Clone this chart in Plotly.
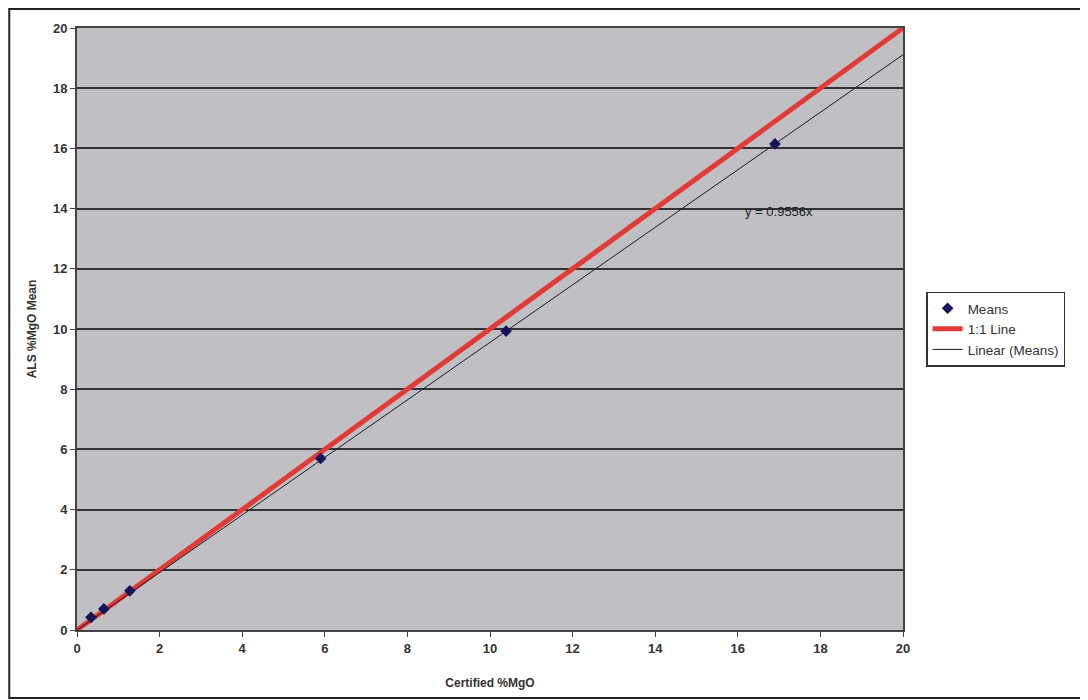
import plotly.graph_objects as go

cert = [0.34, 0.65, 1.28, 5.9, 10.39, 16.9]
als_mean = [0.42, 0.70, 1.30, 5.7, 9.93, 16.15]
one_to_one = [0, 20]
slope = 0.9556
trend_x = [0, 20]
trend_y = [v * slope for v in trend_x]
tickvals = list(range(0, 21, 2))

fig = go.Figure()
fig.add_trace(go.Scatter(x=one_to_one, y=one_to_one, mode="lines", name="1:1 Line",
                         line=dict(color="#e23a36", width=5), showlegend=False))
fig.add_trace(go.Scatter(x=trend_x, y=trend_y, mode="lines", name="Linear (Means)",
                         line=dict(color="#1a1a2a", width=1), showlegend=False))
fig.add_trace(go.Scatter(x=cert, y=als_mean, mode="markers", name="Means",
                         marker=dict(color="#14145a", size=9, symbol="diamond")))
fig.add_trace(go.Scatter(x=[None], y=[None], mode="lines", name="1:1 Line",
                         line=dict(color="#e23a36", width=5)))
fig.add_trace(go.Scatter(x=[None], y=[None], mode="lines", name="Linear (Means)",
                         line=dict(color="#1a1a2a", width=1)))

fig.add_annotation(x=17.0, y=13.9, text="y = 0.9556x", showarrow=False,
                   font=dict(size=13, color="#222", family="Liberation Sans"))

fig.update_layout(
    width=1080, height=692,
    margin=dict(l=69, r=185, t=20, b=70),
    paper_bgcolor="white", plot_bgcolor="#c0c0c4",
    font=dict(family="Liberation Sans", size=12, color="#333"),
    legend=dict(x=1.028, y=0.50, xanchor="left", yanchor="middle",
                bgcolor="white", bordercolor="#333", borderwidth=1.5,
                font=dict(size=13.5, color="#333"), tracegroupgap=0),
    shapes=[dict(type="rect", xref="paper", yref="paper", x0=-0.082, x1=1.2215, y0=-0.113, y1=1.0316,
                 line=dict(color="#222", width=2))],
)
fig.update_xaxes(range=[0, 20], tickvals=tickvals, showgrid=False, zeroline=False,
                 showline=True, linecolor="#444", linewidth=2, mirror=True,
                 ticks="outside", ticklen=5, tickcolor="#444",
                 tickfont=dict(size=13, color="#333", weight="bold"),
                 title=dict(text="<b>Certified %MgO</b>", font=dict(size=12, color="#333"), standoff=24))
fig.update_yaxes(range=[0, 20], tickvals=tickvals, showgrid=True, gridcolor="#333", gridwidth=2,
                 zeroline=False, showline=True, linecolor="#444", linewidth=2, mirror=True,
                 ticks="outside", ticklen=5, tickcolor="#444",
                 tickfont=dict(size=13, color="#333", weight="bold"),
                 title=dict(text="<b>ALS %MgO Mean</b>", font=dict(size=12, color="#333"), standoff=14))

fig.write_html("out.html")
